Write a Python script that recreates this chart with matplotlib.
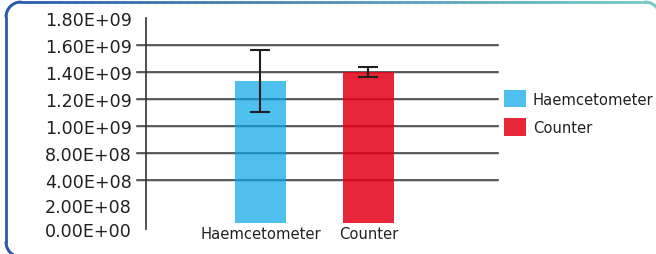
import matplotlib
matplotlib.use("Agg")
import matplotlib.pyplot as plt
import matplotlib.patheffects as pe
from matplotlib.collections import LineCollection
from matplotlib.colors import to_rgb
from matplotlib.patches import Patch
import numpy as np

# ---- data ----
categories = ["Haemcetometer", "Counter"]
means = [1.335e9, 1.398e9]
errors = [0.23e9, 0.036e9]
bar_colors = [(0.016, 0.643, 0.91, 0.7), (0.894, 0.0, 0.086, 0.85)]
tick_values = [2.4e8, 4.15e8, 6.0e8, 8.0e8, 1.0e9, 1.2e9, 1.4e9, 1.6e9, 1.8e9]
tick_labels = ["0.00E+00", "2.00E+08", "4.00E+08", "8.00E+08", "1.00E+09",
               "1.20E+09", "1.40E+09", "1.60E+09", "1.80E+09"]
grid_values = [6.0e8, 8.0e8, 1.0e9, 1.2e9, 1.4e9, 1.6e9]
baseline = 2.83e8
y_limits = (2.55e8, 1.8e9)

W, H = 656, 255
fig = plt.figure(figsize=(W / 100, H / 100), dpi=100)
fig.patch.set_facecolor("white")

# ---- frame ----
bg = fig.add_axes([0, 0, 1, 1], zorder=-5)
bg.set_xlim(0, W)
bg.set_ylim(H, 0)
bg.axis("off")
pts = []
for t in np.linspace(-np.pi / 2, -np.pi, 20):
    pts.append((21 + 15 * np.cos(t), 243 - 15 * np.sin(t)))
for t in np.linspace(np.pi, np.pi / 2, 20):
    pts.append((21 + 15 * np.cos(t), 18 - 15 * np.sin(t)))
for xx in np.linspace(21, 645, 80):
    pts.append((xx, 3))
for t in np.linspace(np.pi / 2, 0, 20):
    pts.append((645 + 15 * np.cos(t), 18 - 15 * np.sin(t)))
pts.append((660, 262))
pts = np.array(pts)
segs = np.stack([pts[:-1], pts[1:]], axis=1)
c0 = np.array(to_rgb("#2b5aa8"))
c1 = np.array(to_rgb("#74cbc8"))
cols = []
for s in segs:
    f = np.clip(s[:, 0].mean() / W, 0, 1)
    cols.append(c0 * (1 - f) + c1 * f)
bg.add_collection(LineCollection(segs, colors=cols, linewidths=2.0,
                                 capstyle="round", joinstyle="round"))

# ---- main axes ----
left, right = 146, 498
top_px, bot_px = 18.7, 229.9
ax = fig.add_axes([left / W, 1 - bot_px / H, (right - left) / W, (bot_px - top_px) / H])
ax.set_facecolor("none")
ax.set_ylim(*y_limits)
ax.set_xlim(-1.06, 2.2)

x = np.arange(len(categories))
for yv in grid_values:
    ax.axhline(yv, xmin=-9 / (right - left), xmax=1, color="#333333", lw=1.1,
               clip_on=False, zorder=1,
               path_effects=[pe.SimpleLineShadow(offset=(0, -0.9), shadow_color="#c8c8c8", alpha=1.0),
                             pe.Normal()])

heights = [m - baseline for m in means]
ax.bar(x, heights, bottom=baseline, width=0.47, color=bar_colors, zorder=2)
ax.errorbar(x, means, yerr=errors, fmt="none", ecolor="#231f20", elinewidth=1.5,
            capsize=7, capthick=1.5, zorder=3)

for sp in ["top", "right", "bottom"]:
    ax.spines[sp].set_visible(False)
ax.spines["left"].set_color("#333333")
ax.spines["left"].set_linewidth(1.2)

ax.set_yticks(tick_values)
ax.set_yticklabels(tick_labels, fontsize=12.6, color="#231f20", family="DejaVu Sans")
ax.tick_params(axis="y", length=0, pad=10)
ax.set_xticks(x)
ax.set_xticklabels(categories, fontsize=10.6, color="#231f20", family="DejaVu Sans")
ax.tick_params(axis="x", length=0, pad=-2)

# ---- legend ----
handles = [Patch(facecolor=bar_colors[i], edgecolor="none", label=categories[i])
           for i in range(len(categories))]
leg = fig.legend(handles=handles, loc="upper left",
                 bbox_to_anchor=(504 / W, 1 - 91 / H), frameon=False,
                 prop={"family": "DejaVu Sans", "size": 10.6},
                 handlelength=1.49, handleheight=1.45, handletextpad=0.47,
                 labelspacing=0.72, borderpad=0, borderaxespad=0)
for t in leg.get_texts():
    t.set_color("#231f20")

fig.savefig("out.png", dpi=100, facecolor="white")
